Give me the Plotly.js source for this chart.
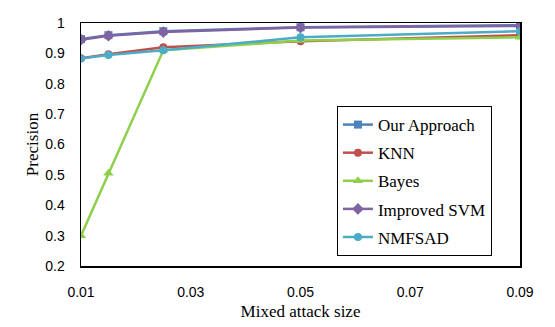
<!DOCTYPE html>
<html>
<head>
<meta charset="utf-8">
<script src="https://cdn.plot.ly/plotly-3.0.1.min.js"></script>
<style>
  body { margin: 0; background: #fff; }
  #chart { width: 555px; height: 327px; }
</style>
</head>
<body>
<div id="chart"></div>
<script>
// attack sizes and precision per method
var attackSize = [0.01, 0.015, 0.025, 0.05, 0.09];
var ourApproach = [0.947, 0.960, 0.973, 0.986, 0.993];
var knn = [0.884, 0.897, 0.920, 0.940, 0.960];
var bayes = [0.300, 0.505, 0.910, 0.942, 0.953];
var improvedSvm = [0.945, 0.958, 0.970, 0.985, 0.990];
var nmfsad = [0.883, 0.895, 0.910, 0.953, 0.973];

var xTicks = [0.01, 0.03, 0.05, 0.07, 0.09];
var yTicks = [0.2, 0.3, 0.4, 0.5, 0.6, 0.7, 0.8, 0.9, 1];

function series(name, values, color, symbol, size) {
    return {
        x: attackSize,
        y: values,
        mode: 'lines+markers',
        name: name,
        legendgroup: name,
        line: { color: color, width: 2.5 },
        marker: { color: color, symbol: symbol, size: size }
    };
}

var data = [
    series('Our Approach', ourApproach, '#4F81BD', 'square', 8),
    series('KNN', knn, '#C0504D', 'circle', 8),
    series('Bayes', bayes, '#8FCF4B', 'triangle-up', 9),
    series('Improved SVM', improvedSvm, '#8064A2', 'diamond', 9),
    series('NMFSAD', nmfsad, '#4BACC6', 'circle', 8)
];

var layout = {
    width: 555,
    height: 327,
    paper_bgcolor: '#ffffff',
    plot_bgcolor: '#ffffff',
    margin: { l: 81, r: 35, t: 23, b: 61 },
    font: { family: 'Liberation Sans, Arial, sans-serif', color: '#000000', size: 14 },
    showlegend: true,
    legend: {
        x: 0.583,
        y: 0.041,
        xanchor: 'left',
        yanchor: 'bottom',
        bgcolor: '#ffffff',
        bordercolor: '#000000',
        borderwidth: 1,
        font: { family: 'Liberation Serif, Times New Roman, serif', size: 17 },
        traceorder: 'grouped',
        tracegroupgap: 3,
        itemwidth: 30
    },
    xaxis: {
        range: [0.01, 0.09],
        tickvals: xTicks,
        ticktext: xTicks.map(function (v) { return v.toFixed(2); }),
        ticks: '',
        ticklabelstandoff: 13,
        showgrid: false,
        zeroline: false,
        showline: true,
        linecolor: '#000000',
        linewidth: 1.5,
        mirror: true,
        title: {
            text: 'Mixed attack size',
            font: { family: 'Liberation Serif, Times New Roman, serif', size: 17 },
            standoff: 6
        }
    },
    yaxis: {
        range: [0.2, 1],
        tickvals: yTicks,
        ticktext: yTicks.map(function (v) { return v === 1 ? '1' : v.toFixed(1); }),
        ticks: '',
        ticklabelstandoff: 12,
        showgrid: false,
        zeroline: false,
        showline: true,
        linecolor: '#000000',
        linewidth: 1.5,
        mirror: true,
        title: {
            text: 'Precision',
            font: { family: 'Liberation Serif, Times New Roman, serif', size: 17 },
            standoff: 2
        }
    }
};

Plotly.newPlot('chart', data, layout, { displayModeBar: false, staticPlot: true });
</script>
</body>
</html>
